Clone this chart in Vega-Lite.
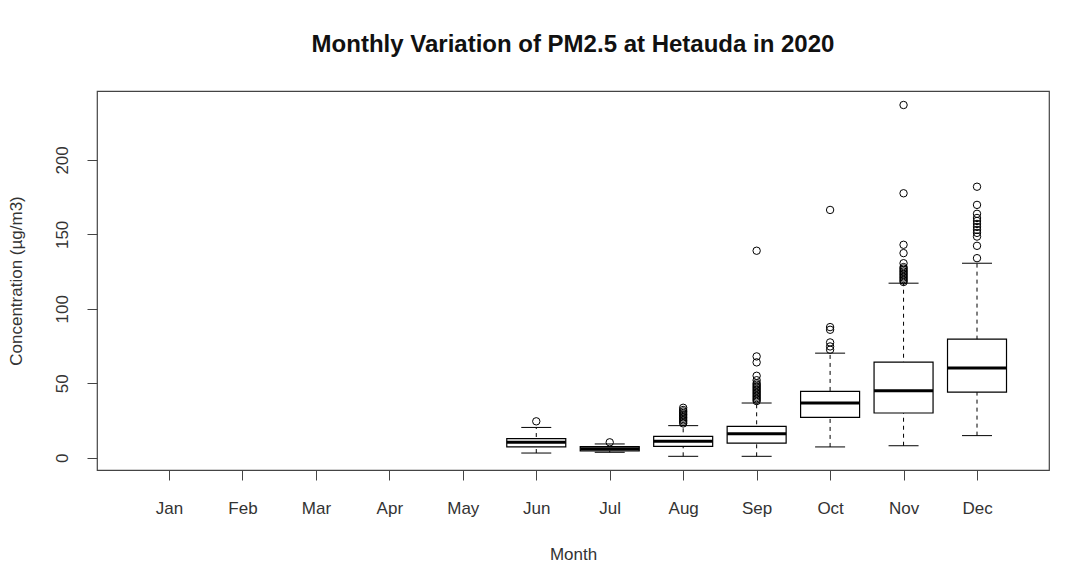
{
  "$schema": "https://vega.github.io/schema/vega-lite/v6.json",
  "width": 952,
  "height": 379,
  "autosize": {"type": "none"},
  "padding": {"left": 97, "top": 91, "right": 19, "bottom": 96},
  "background": "white",
  "title": {
    "text": "Monthly Variation of PM2.5 at Hetauda in 2020",
    "font": "Liberation Sans",
    "fontSize": 24,
    "fontWeight": "bold",
    "color": "#111111",
    "anchor": "middle",
    "offset": 34
  },
  "config": {
    "view": {"stroke": "#444444", "strokeWidth": 1.2},
    "axis": {
      "labelFont": "Liberation Sans",
      "titleFont": "Liberation Sans",
      "labelFontSize": 17,
      "titleFontSize": 17,
      "titleFontWeight": "normal",
      "labelColor": "#333333",
      "titleColor": "#333333",
      "tickColor": "#444444",
      "domain": false,
      "grid": false,
      "tickSize": 10
    }
  },
  "datasets": {
    "stats": [
      {"month": "Jun", "lo": 3.1, "q1": 7.2, "med": 10.3, "q3": 12.8, "hi": 20.3},
      {"month": "Jul", "lo": 3.6, "q1": 4.6, "med": 6.0, "q3": 7.4, "hi": 9.2},
      {"month": "Aug", "lo": 0.9, "q1": 7.6, "med": 11.0, "q3": 14.3, "hi": 21.5},
      {"month": "Sep", "lo": 0.9, "q1": 9.8, "med": 16.1, "q3": 21.0, "hi": 36.7},
      {"month": "Oct", "lo": 7.2, "q1": 27.0, "med": 36.7, "q3": 44.5, "hi": 70.2},
      {"month": "Nov", "lo": 8.0, "q1": 30.0, "med": 45.0, "q3": 64.2, "hi": 117.2},
      {"month": "Dec", "lo": 14.8, "q1": 44.0, "med": 60.2, "q3": 79.6, "hi": 130.6}
    ],
    "outliers": [
      {"month": "Jun", "value": 24.4},
      {"month": "Jul", "value": 10.3},
      {"month": "Aug", "value": 23},
      {"month": "Aug", "value": 24},
      {"month": "Aug", "value": 25},
      {"month": "Aug", "value": 26},
      {"month": "Aug", "value": 27},
      {"month": "Aug", "value": 28},
      {"month": "Aug", "value": 29},
      {"month": "Aug", "value": 30},
      {"month": "Aug", "value": 31},
      {"month": "Aug", "value": 32},
      {"month": "Aug", "value": 33.5},
      {"month": "Sep", "value": 38},
      {"month": "Sep", "value": 39},
      {"month": "Sep", "value": 40},
      {"month": "Sep", "value": 41},
      {"month": "Sep", "value": 42},
      {"month": "Sep", "value": 43},
      {"month": "Sep", "value": 44},
      {"month": "Sep", "value": 45},
      {"month": "Sep", "value": 46},
      {"month": "Sep", "value": 47},
      {"month": "Sep", "value": 48},
      {"month": "Sep", "value": 49},
      {"month": "Sep", "value": 50},
      {"month": "Sep", "value": 52},
      {"month": "Sep", "value": 55},
      {"month": "Sep", "value": 64},
      {"month": "Sep", "value": 68},
      {"month": "Sep", "value": 139},
      {"month": "Oct", "value": 72.5},
      {"month": "Oct", "value": 74.7},
      {"month": "Oct", "value": 77.4},
      {"month": "Oct", "value": 85.9},
      {"month": "Oct", "value": 87.7},
      {"month": "Oct", "value": 166.4},
      {"month": "Nov", "value": 118},
      {"month": "Nov", "value": 119},
      {"month": "Nov", "value": 120},
      {"month": "Nov", "value": 121},
      {"month": "Nov", "value": 122},
      {"month": "Nov", "value": 123},
      {"month": "Nov", "value": 124},
      {"month": "Nov", "value": 125},
      {"month": "Nov", "value": 126},
      {"month": "Nov", "value": 127},
      {"month": "Nov", "value": 128},
      {"month": "Nov", "value": 130.6},
      {"month": "Nov", "value": 137.4},
      {"month": "Nov", "value": 143},
      {"month": "Nov", "value": 177.6},
      {"month": "Nov", "value": 236.9},
      {"month": "Dec", "value": 134},
      {"month": "Dec", "value": 142.3},
      {"month": "Dec", "value": 148.5},
      {"month": "Dec", "value": 151},
      {"month": "Dec", "value": 153},
      {"month": "Dec", "value": 155},
      {"month": "Dec", "value": 157},
      {"month": "Dec", "value": 159},
      {"month": "Dec", "value": 161},
      {"month": "Dec", "value": 163.8},
      {"month": "Dec", "value": 169.8},
      {"month": "Dec", "value": 182}
    ]
  },
  "encoding": {
    "x": {
      "field": "month",
      "type": "ordinal",
      "scale": {
        "type": "point",
        "domain": ["Jan", "Feb", "Mar", "Apr", "May", "Jun", "Jul", "Aug", "Sep", "Oct", "Nov", "Dec"],
        "padding": 0.98
      },
      "axis": {"title": "Month", "labelAngle": 0, "labelPadding": 20, "titlePadding": 30}
    }
  },
  "layer": [
    {
      "data": {"name": "stats"},
      "mark": {"type": "rule", "color": "black", "strokeWidth": 1, "strokeDash": [4, 4], "opacity": 1},
      "encoding": {
        "y": {
          "field": "lo",
          "type": "quantitative",
          "scale": {"domain": [-8.3, 246.3], "nice": false, "zero": false},
          "axis": {
            "title": "Concentration (µg/m3)",
            "values": [0, 50, 100, 150, 200],
            "labelAngle": -90,
            "labelAlign": "center",
            "labelBaseline": "bottom",
            "labelPadding": 16,
            "titlePadding": 28
          }
        },
        "y2": {"field": "hi"}
      }
    },
    {
      "data": {"name": "stats"},
      "mark": {"type": "tick", "color": "black", "thickness": 1, "size": 30, "opacity": 1},
      "encoding": {"y": {"field": "lo", "type": "quantitative"}}
    },
    {
      "data": {"name": "stats"},
      "mark": {"type": "tick", "color": "black", "thickness": 1, "size": 30, "opacity": 1},
      "encoding": {"y": {"field": "hi", "type": "quantitative"}}
    },
    {
      "data": {"name": "stats"},
      "mark": {"type": "bar", "fill": "white", "stroke": "black", "strokeWidth": 1.2, "size": 59, "opacity": 1},
      "encoding": {
        "y": {"field": "q1", "type": "quantitative"},
        "y2": {"field": "q3"}
      }
    },
    {
      "data": {"name": "stats"},
      "mark": {"type": "tick", "color": "black", "thickness": 3, "size": 59, "opacity": 1},
      "encoding": {"y": {"field": "med", "type": "quantitative"}}
    },
    {
      "data": {"name": "outliers"},
      "mark": {"type": "point", "shape": "circle", "filled": false, "color": "black", "strokeWidth": 1, "size": 55, "opacity": 1},
      "encoding": {"y": {"field": "value", "type": "quantitative"}}
    }
  ]
}
